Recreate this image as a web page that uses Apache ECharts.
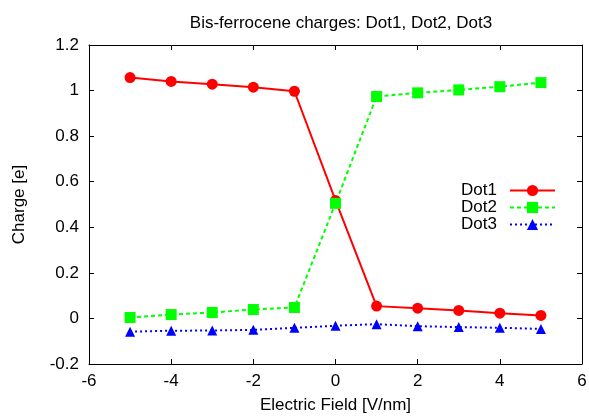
<!DOCTYPE html>
<html><head><meta charset="utf-8">
<script src="https://cdn.jsdelivr.net/npm/echarts@6/dist/echarts.min.js"></script>
<style>html,body{margin:0;padding:0;background:#fff}#c{width:589px;height:416px}</style>
</head><body><div id="c"></div>
<script>
var fields = [-5, -4, -3, -2, -1, 0, 1, 2, 3, 4, 5];
var dot1 = [1.057, 1.040, 1.028, 1.015, 0.997, 0.518, 0.054, 0.045, 0.035, 0.023, 0.013];
var dot2 = [0.004, 0.017, 0.026, 0.039, 0.048, 0.505, 0.974, 0.990, 1.003, 1.017, 1.035];
var dot3 = [-0.058, -0.054, -0.053, -0.050, -0.041, -0.032, -0.025, -0.034, -0.038, -0.041, -0.046];
var names = ['Dot1', 'Dot2', 'Dot3'];

function pairs(ys){ return fields.map(function(x,i){ return [x, ys[i]]; }); }
var font = 'Liberation Sans, Arial, sans-serif';
var fs = 17;
var chart = echarts.init(document.getElementById('c'));
var axisLine = {show:true, onZero:false, lineStyle:{color:'#000', width:1}};
var tick = {show:true, inside:true, length:5, lineStyle:{color:'#000'}};
chart.setOption({
  animation:false,
  title:{text:'Bis-ferrocene charges: Dot1, Dot2, Dot3', left:336, top:10, textAlign:'center',
    textStyle:{fontFamily:font, fontSize:fs, fontWeight:'normal', color:'#000'}},
  grid:{left:89, right:7, top:45, bottom:52, containLabel:false, outerBoundsMode:'none'},
  legend:{right:28, top:177, orient:'vertical', align:'right', itemWidth:45, itemHeight:14, itemGap:0,
    textStyle:{fontFamily:font, fontSize:fs, color:'#000', padding:[0,8,0,0]},
    data:names},
  xAxis:[{type:'value', min:-6, max:6, interval:2, axisLine:axisLine, axisTick:tick, splitLine:{show:false},
    name:'Electric Field [V/nm]', nameLocation:'middle', nameGap:33,
    nameTextStyle:{fontFamily:font, fontSize:fs, color:'#000'},
    axisLabel:{fontFamily:font, fontSize:fs, color:'#000', margin:9}},
    {type:'value', position:'top', min:-6, max:6, interval:2, axisLine:axisLine, axisTick:tick, axisLabel:{show:false}, splitLine:{show:false}}],
  yAxis:[{type:'value', min:-0.2, max:1.2, interval:0.2, axisLine:axisLine, axisTick:tick, splitLine:{show:false},
    name:'Charge [e]', nameLocation:'middle', nameGap:61,
    nameTextStyle:{fontFamily:font, fontSize:fs, color:'#000'},
    axisLabel:{fontFamily:font, fontSize:fs, color:'#000', margin:10,
      formatter:function(v){ return String(Math.round(v*10)/10); }}},
    {type:'value', position:'right', min:-0.2, max:1.2, interval:0.2, axisLine:axisLine, axisTick:tick, axisLabel:{show:false}, splitLine:{show:false}}],
  series:[
    {name:'Dot1', type:'line', data:pairs(dot1), symbol:'circle', symbolSize:11,
      itemStyle:{color:'#ff0000'}, lineStyle:{color:'#ff0000', width:2}},
    {name:'Dot2', type:'line', data:pairs(dot2), symbol:'rect', symbolSize:11,
      itemStyle:{color:'#00ff00'}, lineStyle:{color:'#00ff00', width:2, type:[4,3]}},
    {name:'Dot3', type:'line', data:pairs(dot3), symbol:'triangle', symbolSize:10,
      itemStyle:{color:'#0000ff'}, lineStyle:{color:'#0000ff', width:2, type:[2,3]}}
  ]
});
</script></body></html>
